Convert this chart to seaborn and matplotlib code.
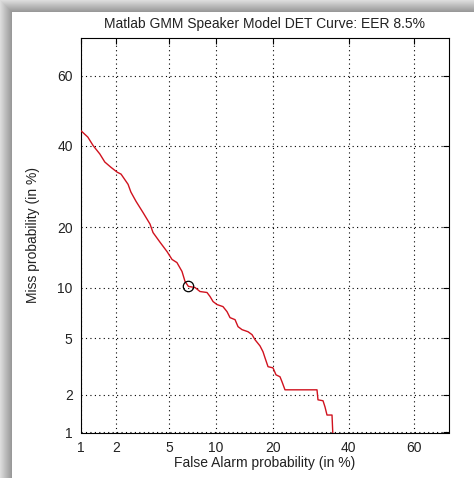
import numpy as np
import pandas as pd
import matplotlib
matplotlib.use("Agg")
import matplotlib.pyplot as plt
import seaborn as sns
from statistics import NormalDist

# DET curve vertices: false alarm and miss probabilities, in percent
false_alarm = [1.0, 1.15, 1.28, 1.46, 1.61, 1.81, 2.04, 2.19, 2.49, 2.62, 2.87, 3.24,
               3.66, 3.85, 4.33, 4.85, 5.25, 5.67, 6.13, 6.42, 6.75, 7.45, 8.01, 8.85,
               9.23, 9.62, 10.15, 11.0, 11.6, 12.06, 12.86, 13.35, 14.03, 15.09, 15.83,
               16.39, 17.37, 17.97, 18.38, 19.01, 20.07, 20.73, 21.63, 22.09, 22.78,
               30.92, 31.19, 32.58, 33.14, 33.70, 35.13, 35.41]
miss = [44.2, 42.4, 40.0, 37.7, 35.5, 34.1, 32.8, 32.3, 29.7, 27.8, 25.6, 23.1,
        20.6, 18.9, 17.05, 15.4, 14.1, 13.6, 12.25, 10.84, 10.2, 10.05, 9.55, 9.43,
        8.95, 8.38, 8.05, 7.83, 7.31, 6.73, 6.54, 5.92, 5.67, 5.50, 5.27,
        4.89, 4.45, 4.07, 3.70, 3.21, 3.15, 2.81, 2.72, 2.50, 2.18,
        2.18, 1.83, 1.80, 1.61, 1.39, 1.39, 0.9]

# operating point marked on the curve
point_fa = [6.75]
point_miss = [10.2]

tick_values = [1, 2, 5, 10, 20, 40, 60]
tick_labels = ["1", "2", "5", "10", "20", "40", "60"]
axis_limits = (1.0, 70.0)

title_text = "Matlab GMM Speaker Model DET Curve: EER 8.5%"
x_label = "False Alarm probability (in %)"
y_label = "Miss probability (in %)"

sns.set_theme(style="white")
plt.rcParams["font.family"] = ["Liberation Sans", "DejaVu Sans"]

_nd = NormalDist()
_ppf = np.vectorize(_nd.inv_cdf, otypes=[float])
_cdf = np.vectorize(_nd.cdf, otypes=[float])


def to_deviate(p):
    p = np.clip(np.asarray(p, dtype=float) / 100.0, 1e-9, 1 - 1e-9)
    return _ppf(p)


def from_deviate(z):
    return 100.0 * _cdf(np.asarray(z, dtype=float))


W, H = 474, 478
fig = plt.figure(figsize=(W / 100, H / 100), dpi=100)
fig.patch.set_facecolor("white")

# window frame shading along the top and left edges
bg = fig.add_axes([0, 0, 1, 1], zorder=-10)
img = np.ones((H, W))
band = 12
for i in range(band):
    shade = 0.86 - 0.26 * (i / (band - 1))
    img[i, i:] = np.minimum(img[i, i:], shade)
    img[i:, i] = np.minimum(img[i:, i], shade)
bg.imshow(img, cmap="gray", vmin=0, vmax=1, aspect="auto", interpolation="bilinear")
bg.set_axis_off()

ax = fig.add_axes([81 / W, 1 - 432.5 / H, (449 - 81) / W, (432.5 - 38) / H])
ax.set_facecolor("white")
ax.set_xscale("function", functions=(to_deviate, from_deviate))
ax.set_yscale("function", functions=(to_deviate, from_deviate))

df = pd.DataFrame({"fa": false_alarm, "miss": miss})
sns.lineplot(data=df, x="fa", y="miss", sort=False, estimator=None,
             color="#d0121e", linewidth=1.0, ax=ax, zorder=3)
ax.plot(point_fa, point_miss, marker="o", markersize=7.5, markerfacecolor="none",
        markeredgecolor="black", markeredgewidth=0.9, linestyle="none", zorder=4)

ax.set_xlim(*axis_limits)
ax.set_ylim(*axis_limits)
ax.set_xticks(tick_values)
ax.set_xticklabels(tick_labels)
ax.set_yticks(tick_values)
ax.set_yticklabels(tick_labels)
ax.minorticks_off()

ax.grid(True, color="black", linestyle=(0, (1, 3)), linewidth=0.8)
ax.tick_params(direction="in", top=True, right=True, length=4, width=0.8,
               labelsize=10, colors="black", labelcolor="#222222", pad=6)
for sp in ax.spines.values():
    sp.set_color("black")
    sp.set_linewidth(0.8)
    sp.set_visible(True)

ax.set_title(title_text, fontsize=10, color="#222222", pad=7)
ax.set_xlabel(x_label, fontsize=10, color="#222222", labelpad=1)
ax.set_ylabel(y_label, fontsize=10, color="#222222", labelpad=12)

fig.savefig("out.png", dpi=100)
